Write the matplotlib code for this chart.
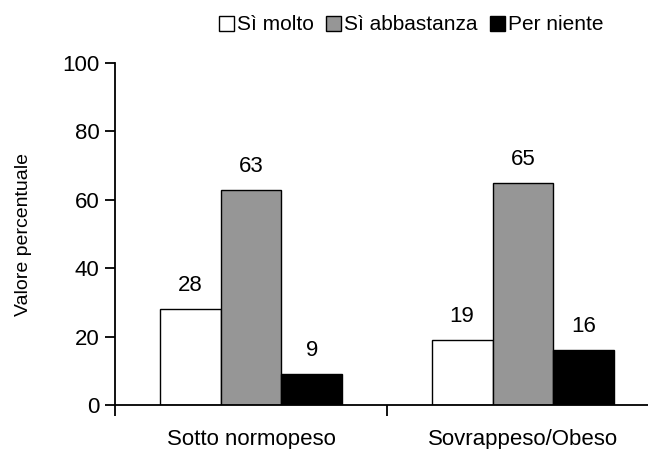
import matplotlib
matplotlib.use("Agg")
import matplotlib.pyplot as plt
import numpy as np

plt.rcParams['font.family'] = ['Liberation Sans', 'DejaVu Sans']

categories = ["Sotto normopeso", "Sovrappeso/Obeso"]
series_names = ["Sì molto", "Sì abbastanza", "Per niente"]
values = {
    "Sì molto": [28, 19],
    "Sì abbastanza": [63, 65],
    "Per niente": [9, 16],
}
colors = ["white", "#969696", "black"]
yticks = [0, 20, 40, 60, 80, 100]

FS = 16
fig = plt.figure(figsize=(6.48, 4.49), dpi=100)
ax = fig.add_axes([115/648, 1-405/449, (659-115)/648, (405-63)/449])

x = np.arange(len(categories))
w = 0.224
offsets = [-w, 0, w]
for name, c, off in zip(series_names, colors, offsets):
    vals = values[name]
    ax.bar(x + off, vals, width=w, color=c, edgecolor="black", linewidth=1.0, label=name)
    for xi, v in zip(x + off, vals):
        ax.text(xi, v + 3.8, f"{v}", ha="center", va="bottom", fontsize=FS)

ax.set_xlim(-0.5, 1.5)
ax.set_ylim(0, 100)
ax.set_yticks(yticks)
ax.set_xticks([-0.5, 0.5, 1.5])
ax.set_xticklabels([])
ax.set_xticks(x, minor=True)
ax.set_xticklabels(categories, minor=True, fontsize=FS)
ax.tick_params(axis='x', which='minor', length=0, pad=17)
ax.tick_params(axis='x', which='major', direction='out', length=8, width=1.3)
ax.tick_params(axis='y', direction='out', length=7, width=1.3, labelsize=FS, pad=4)
for s in ['top', 'right']:
    ax.spines[s].set_visible(False)
for s in ['left', 'bottom']:
    ax.spines[s].set_linewidth(1.3)
ax.set_ylabel("Valore percentuale", fontsize=14, labelpad=22)

fig.legend(loc="center right", bbox_to_anchor=(604/648, 1-25/449), ncol=3, frameon=False,
           fontsize=15, handlelength=0.72, handleheight=0.72, handletextpad=0.15,
           columnspacing=0.6, borderaxespad=0, borderpad=0)

fig.savefig("out.png", dpi=100)
